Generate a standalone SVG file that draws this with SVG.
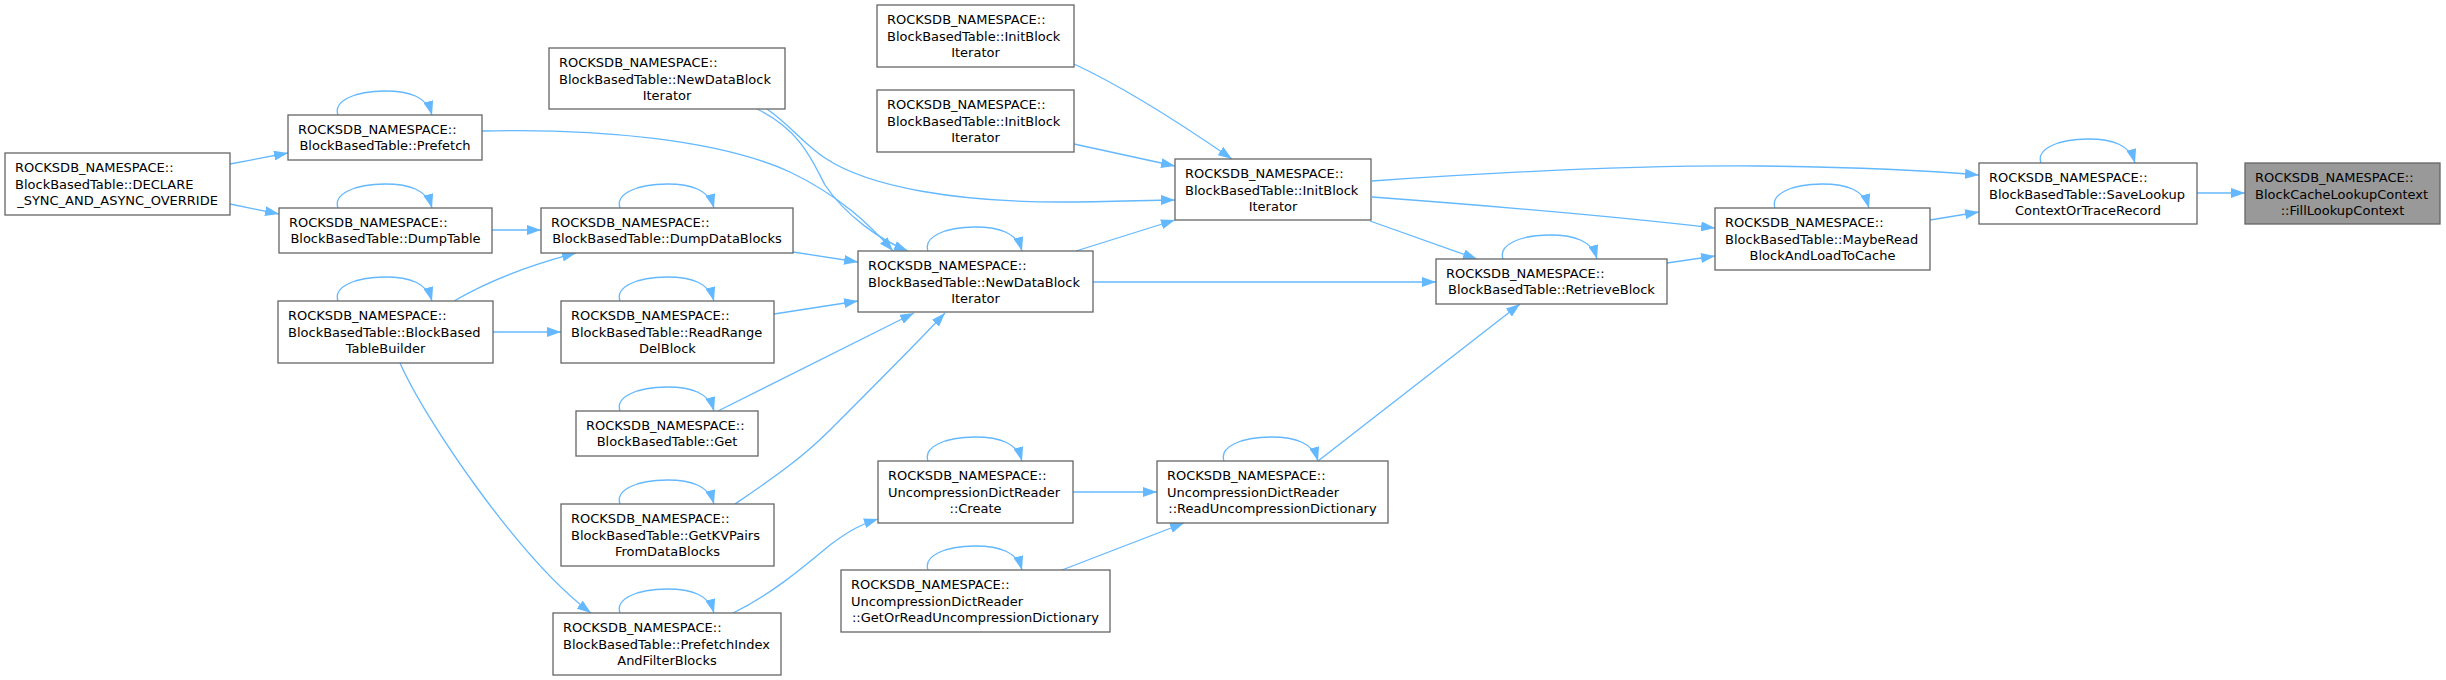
<svg xmlns="http://www.w3.org/2000/svg" width="2446" height="680" viewBox="0 0 2446 680">
<style>
.n rect{fill:#fff;stroke:#666;stroke-width:1.3}
.n.h rect{fill:#999}
.n text{font-family:"DejaVu Sans","Liberation Sans",sans-serif;font-size:13px;fill:#000}
.n text.c{text-anchor:middle}
#edges path{fill:none;stroke:#63b8ff;stroke-width:1.3;marker-end:url(#ah)}
</style>
<defs>
<marker id="ah" markerUnits="userSpaceOnUse" markerWidth="14" markerHeight="10" refX="14" refY="5" orient="auto">
<path d="M0,0 L14,5 L0,10 z" fill="#63b8ff"/>
</marker>
</defs>
<rect width="2446" height="680" fill="#fff"/>
<g id="edges">
<path d="M2197,193 L2245,193"/>
<path d="M2041,163 C2036,149 2058,139 2088,139 C2113,139 2130,145 2135,163"/>
<path d="M1930,220 L1979,212"/>
<path d="M1775,208 C1770,194 1792,184 1822,184 C1847,184 1864,190 1869,208"/>
<path d="M1372,181 C1500,172 1640,165 1760,166 C1850,167 1920,170 1979,175"/>
<path d="M1372,197 C1480,205 1620,217 1715,228"/>
<path d="M1667,263 L1715,256"/>
<path d="M1370,221 L1477,259"/>
<path d="M1503,259 C1498,245 1520,235 1550,235 C1575,235 1592,241 1597,259"/>
<path d="M1093,282 L1436,282"/>
<path d="M1076,251 L1175,220"/>
<path d="M1318,461 L1520,304"/>
<path d="M1224,461 C1219,447 1241,437 1271,437 C1296,437 1313,443 1318,461"/>
<path d="M1073,492 L1157,492"/>
<path d="M928,461 C923,447 945,437 975,437 C1000,437 1017,443 1022,461"/>
<path d="M1062,570 L1184,523"/>
<path d="M928,570 C923,556 945,546 975,546 C1000,546 1017,552 1022,570"/>
<path d="M1074,64 C1130,90 1190,130 1232,159"/>
<path d="M1074,144 L1175,166"/>
<path d="M767,109 C790,125 805,145 825,158 C870,188 960,202 1060,202 C1110,202 1150,200 1175,200"/>
<path d="M757,109 C800,130 812,160 825,185 C845,215 880,240 908,251"/>
<path d="M482,131 C600,128 720,140 790,172 C840,196 870,225 893,251"/>
<path d="M793,252 L858,262"/>
<path d="M774,314 L858,301"/>
<path d="M718,411 L914,313"/>
<path d="M735,504 C770,480 800,460 830,430 C870,390 915,345 945,313"/>
<path d="M733,613 C770,595 800,570 830,545 C850,530 862,524 878,519"/>
<path d="M928,251 C923,237 945,227 975,227 C1000,227 1017,233 1022,251"/>
<path d="M230,164 L288,153"/>
<path d="M230,204 L279,214"/>
<path d="M492,230 L541,230"/>
<path d="M454,301 C490,280 530,265 576,253"/>
<path d="M493,332 L561,332"/>
<path d="M400,363 C425,420 520,560 591,613"/>
<path d="M338,115 C333,101 355,91 385,91 C410,91 427,97 432,115"/>
<path d="M338,208 C333,194 355,184 385,184 C410,184 427,190 432,208"/>
<path d="M620,208 C615,194 637,184 667,184 C692,184 709,190 714,208"/>
<path d="M338,301 C333,287 355,277 385,277 C410,277 427,283 432,301"/>
<path d="M620,301 C615,287 637,277 667,277 C692,277 709,283 714,301"/>
<path d="M620,411 C615,397 637,387 667,387 C692,387 709,393 714,411"/>
<path d="M620,504 C615,490 637,480 667,480 C692,480 709,486 714,504"/>
<path d="M620,613 C615,599 637,589 667,589 C692,589 709,595 714,613"/>
</g>
<g id="n_declare" class="n"><rect x="5" y="153" width="225" height="62"/><text x="15" y="172">ROCKSDB_NAMESPACE::</text><text x="15" y="188.5">BlockBasedTable::DECLARE</text><text class="c" x="117.5" y="205">_SYNC_AND_ASYNC_OVERRIDE</text></g>
<g id="n_prefetch" class="n"><rect x="288" y="115" width="194" height="45"/><text x="298" y="133.75">ROCKSDB_NAMESPACE::</text><text class="c" x="385" y="150.25">BlockBasedTable::Prefetch</text></g>
<g id="n_dumptable" class="n"><rect x="279" y="208" width="213" height="45"/><text x="289" y="226.75">ROCKSDB_NAMESPACE::</text><text class="c" x="385.5" y="243.25">BlockBasedTable::DumpTable</text></g>
<g id="n_dumpdatablocks" class="n"><rect x="541" y="208" width="252" height="45"/><text x="551" y="226.75">ROCKSDB_NAMESPACE::</text><text class="c" x="667" y="243.25">BlockBasedTable::DumpDataBlocks</text></g>
<g id="n_ndb_top" class="n"><rect x="549" y="48" width="236" height="61"/><text x="559" y="67">ROCKSDB_NAMESPACE::</text><text x="559" y="83.5">BlockBasedTable::NewDataBlock</text><text class="c" x="667" y="100">Iterator</text></g>
<g id="n_builder" class="n"><rect x="278" y="301" width="215" height="62"/><text x="288" y="320">ROCKSDB_NAMESPACE::</text><text x="288" y="336.5">BlockBasedTable::BlockBased</text><text class="c" x="385.5" y="353">TableBuilder</text></g>
<g id="n_readrange" class="n"><rect x="561" y="301" width="213" height="62"/><text x="571" y="320">ROCKSDB_NAMESPACE::</text><text x="571" y="336.5">BlockBasedTable::ReadRange</text><text class="c" x="667.5" y="353">DelBlock</text></g>
<g id="n_get" class="n"><rect x="576" y="411" width="182" height="45"/><text x="586" y="429.75">ROCKSDB_NAMESPACE::</text><text class="c" x="667" y="446.25">BlockBasedTable::Get</text></g>
<g id="n_getkv" class="n"><rect x="561" y="504" width="213" height="62"/><text x="571" y="523">ROCKSDB_NAMESPACE::</text><text x="571" y="539.5">BlockBasedTable::GetKVPairs</text><text class="c" x="667.5" y="556">FromDataBlocks</text></g>
<g id="n_prefetchindex" class="n"><rect x="553" y="613" width="228" height="62"/><text x="563" y="632">ROCKSDB_NAMESPACE::</text><text x="563" y="648.5">BlockBasedTable::PrefetchIndex</text><text class="c" x="667" y="665">AndFilterBlocks</text></g>
<g id="n_initblock_a" class="n"><rect x="877" y="5" width="197" height="62"/><text x="887" y="24">ROCKSDB_NAMESPACE::</text><text x="887" y="40.5">BlockBasedTable::InitBlock</text><text class="c" x="975.5" y="57">Iterator</text></g>
<g id="n_initblock_b" class="n"><rect x="877" y="90" width="197" height="62"/><text x="887" y="109">ROCKSDB_NAMESPACE::</text><text x="887" y="125.5">BlockBasedTable::InitBlock</text><text class="c" x="975.5" y="142">Iterator</text></g>
<g id="n_initblock" class="n"><rect x="1175" y="159" width="196" height="61"/><text x="1185" y="178">ROCKSDB_NAMESPACE::</text><text x="1185" y="194.5">BlockBasedTable::InitBlock</text><text class="c" x="1273" y="211">Iterator</text></g>
<g id="n_ndb" class="n"><rect x="858" y="251" width="235" height="61"/><text x="868" y="270">ROCKSDB_NAMESPACE::</text><text x="868" y="286.5">BlockBasedTable::NewDataBlock</text><text class="c" x="975.5" y="303">Iterator</text></g>
<g id="n_retrieve" class="n"><rect x="1436" y="259" width="231" height="45"/><text x="1446" y="277.75">ROCKSDB_NAMESPACE::</text><text class="c" x="1551.5" y="294.25">BlockBasedTable::RetrieveBlock</text></g>
<g id="n_create" class="n"><rect x="878" y="461" width="195" height="62"/><text x="888" y="480">ROCKSDB_NAMESPACE::</text><text x="888" y="496.5">UncompressionDictReader</text><text class="c" x="975.5" y="513">::Create</text></g>
<g id="n_readuncomp" class="n"><rect x="1157" y="461" width="231" height="62"/><text x="1167" y="480">ROCKSDB_NAMESPACE::</text><text x="1167" y="496.5">UncompressionDictReader</text><text class="c" x="1272.5" y="513">::ReadUncompressionDictionary</text></g>
<g id="n_getorread" class="n"><rect x="841" y="570" width="269" height="62"/><text x="851" y="589">ROCKSDB_NAMESPACE::</text><text x="851" y="605.5">UncompressionDictReader</text><text class="c" x="975.5" y="622">::GetOrReadUncompressionDictionary</text></g>
<g id="n_maybe" class="n"><rect x="1715" y="208" width="215" height="62"/><text x="1725" y="227">ROCKSDB_NAMESPACE::</text><text x="1725" y="243.5">BlockBasedTable::MaybeRead</text><text class="c" x="1822.5" y="260">BlockAndLoadToCache</text></g>
<g id="n_save" class="n"><rect x="1979" y="163" width="218" height="61"/><text x="1989" y="182">ROCKSDB_NAMESPACE::</text><text x="1989" y="198.5">BlockBasedTable::SaveLookup</text><text class="c" x="2088" y="215">ContextOrTraceRecord</text></g>
<g id="n_fill" class="n h"><rect x="2245" y="163" width="195" height="61"/><text x="2255" y="182">ROCKSDB_NAMESPACE::</text><text x="2255" y="198.5">BlockCacheLookupContext</text><text class="c" x="2342.5" y="215">::FillLookupContext</text></g>
</svg>
